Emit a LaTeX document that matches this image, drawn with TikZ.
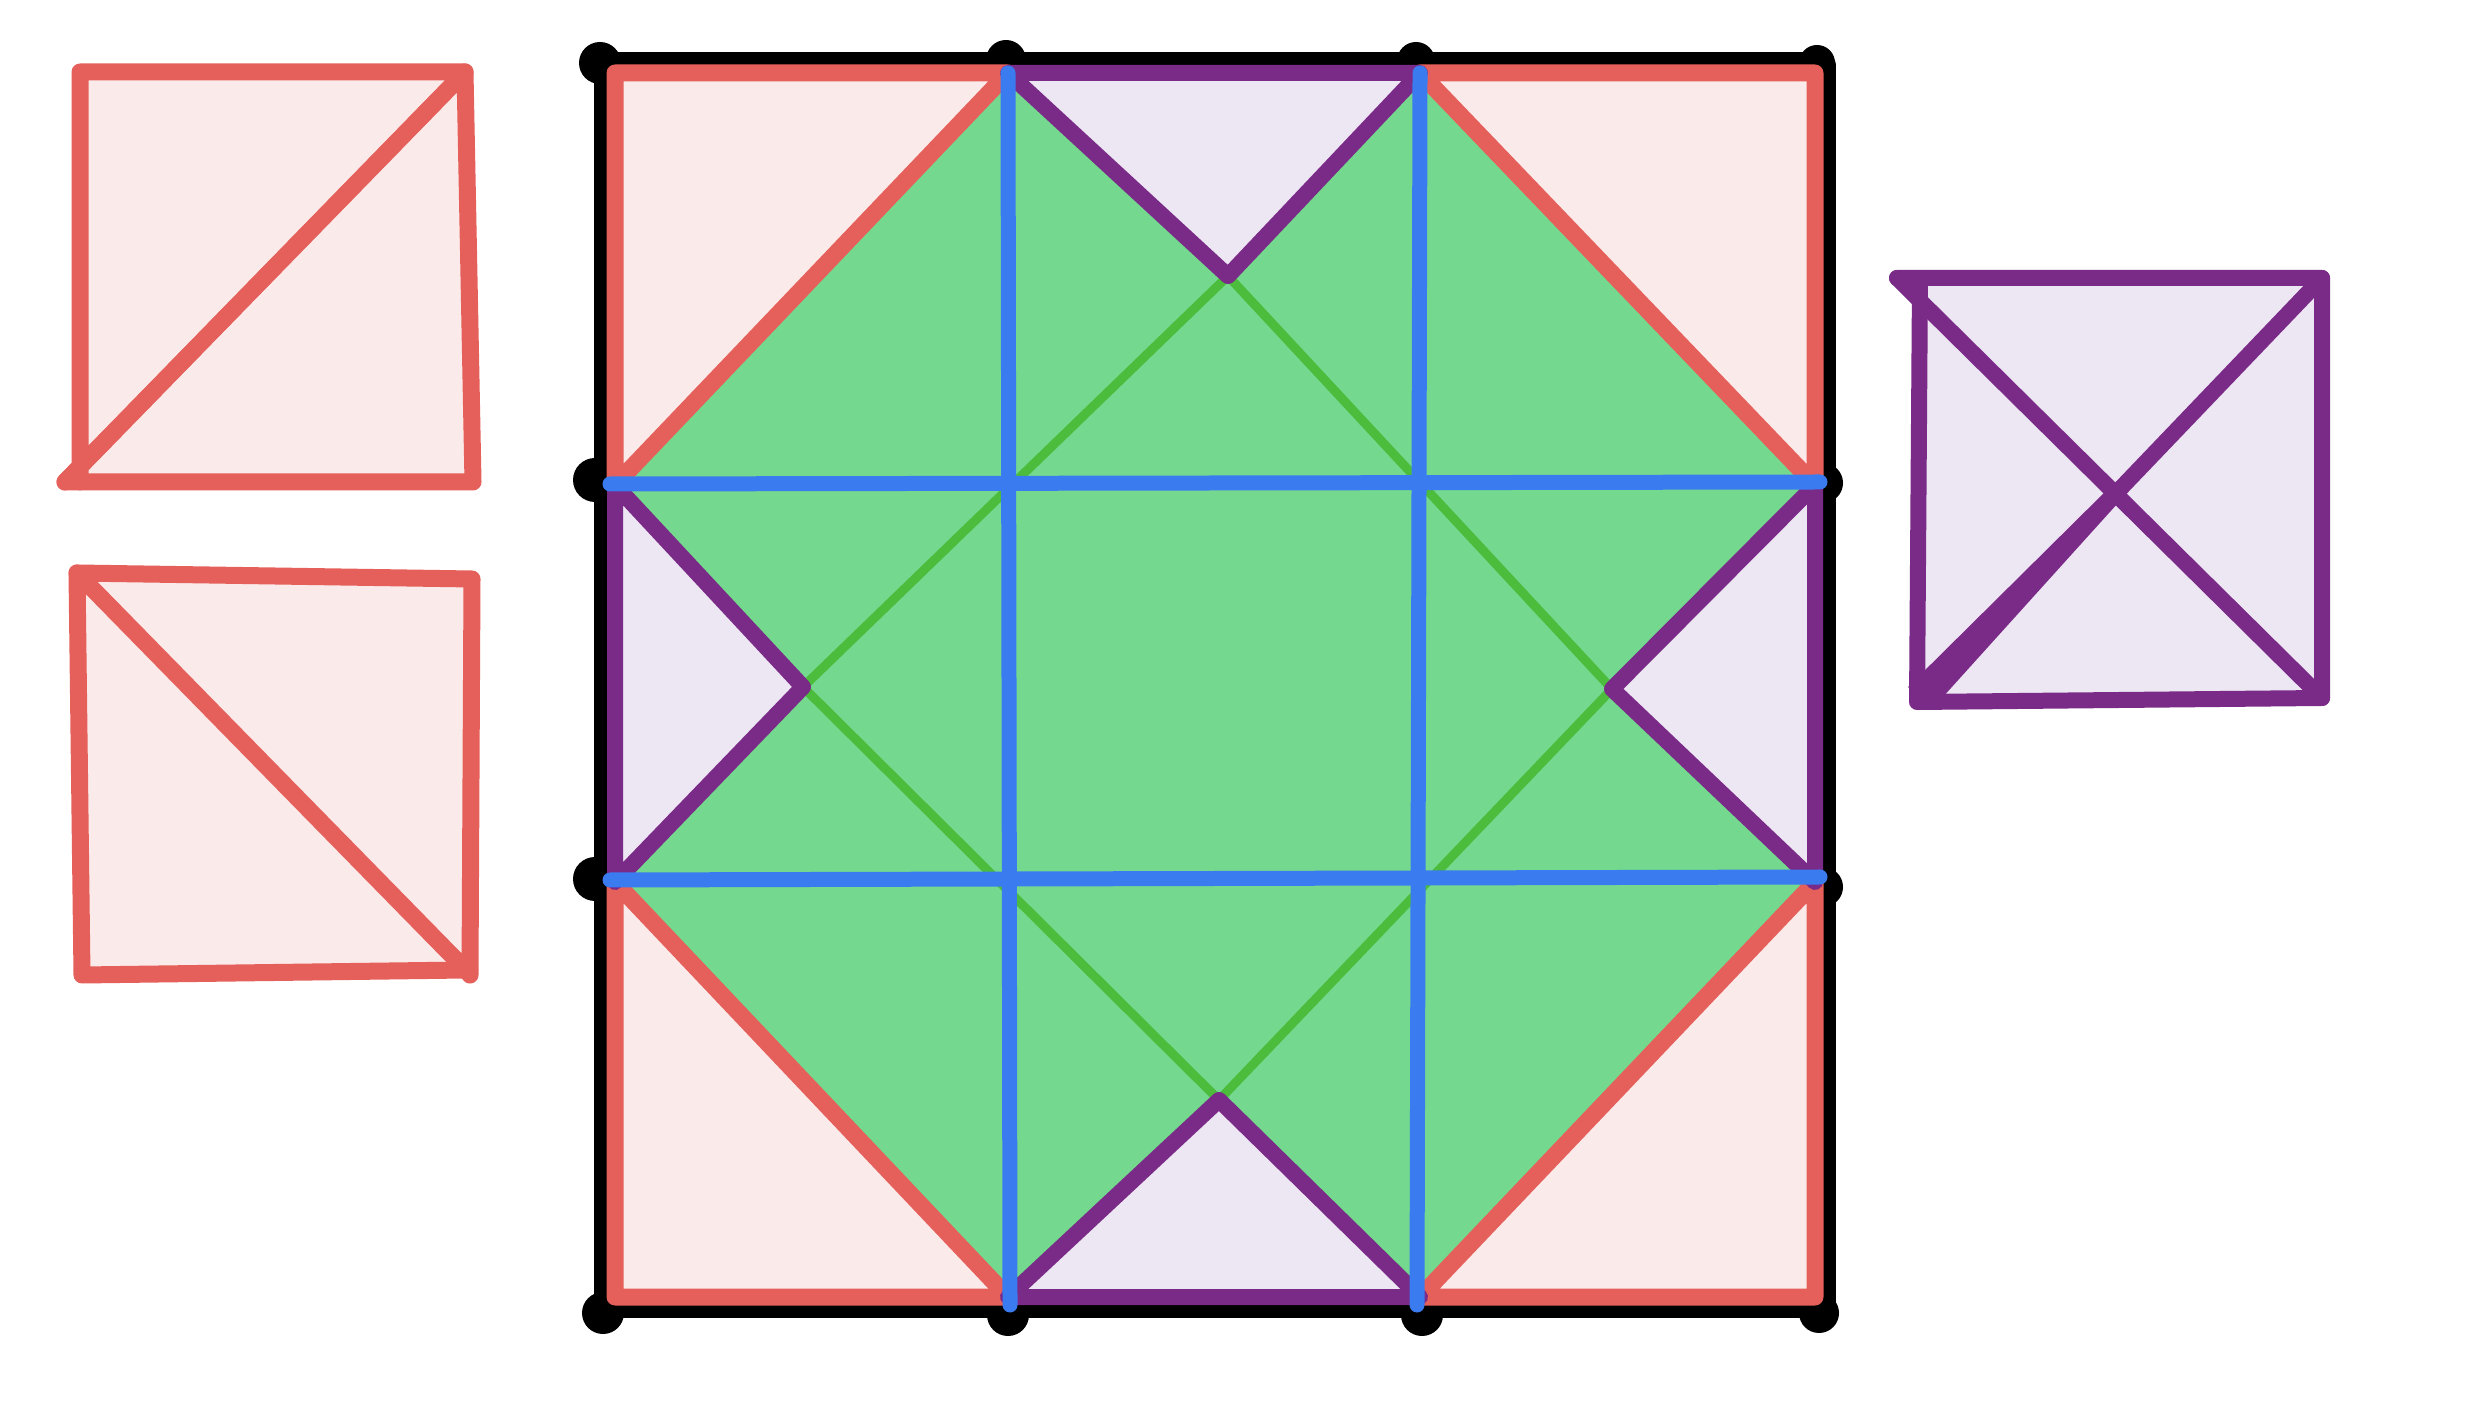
\documentclass[tikz,border=0pt]{standalone}
\usepackage{tikz}
\usetikzlibrary{calc}

\definecolor{quiltred}{RGB}{229,96,90}
\definecolor{quiltpink}{RGB}{251,234,234}
\definecolor{quiltpurple}{RGB}{122,42,135}
\definecolor{quiltlilac}{RGB}{237,230,243}
\definecolor{quiltgreen}{RGB}{116,216,142}
\definecolor{quiltdkgreen}{RGB}{76,188,60}
\definecolor{quiltblue}{RGB}{58,124,240}

\tikzset{
  redline/.style={draw=quiltred, line width=0.17cm, line join=round, line cap=round},
  purpleline/.style={draw=quiltpurple, line width=0.16cm, line join=round, line cap=round},
  blueline/.style={draw=quiltblue, line width=0.15cm, line cap=round},
  greenline/.style={draw=quiltdkgreen, line width=0.09cm, line cap=round},
  blackline/.style={draw=black, line width=0.28cm, line join=round},
  blackdot/.style={fill=black},
}

\begin{document}
\begin{tikzpicture}
\useasboundingbox[fill=white] (0,0) rectangle (24.92,14);

% left: the two half square pieces, each drawn as two triangles
\coordinate (aTL) at (0.80,13.28);
\coordinate (aTR) at (4.65,13.28);
\coordinate (aBR) at (4.73,9.18);
\coordinate (aBL) at (0.80,9.18);
\coordinate (aD) at (0.65,9.18);
\fill[quiltpink] (aTL) -- (aTR) -- (aBR) -- (aBL) -- cycle;
\draw[redline] (aBL) -- (aTL) -- (aTR) -- (aD);
\draw[redline] (aTR) -- (aBR) -- (aD) -- cycle;

\coordinate (bTL) at (0.77,8.27);
\coordinate (bTR) at (4.72,8.21);
\coordinate (bBR) at (4.70,4.25);
\coordinate (bBL) at (0.82,4.25);
\coordinate (bD) at (4.66,4.30);
\fill[quiltpink] (bTL) -- (bTR) -- (bBR) -- (bBL) -- cycle;
\draw[redline] (bTL) -- (bTR) -- (bBR) -- (bD) -- cycle;
\draw[redline] (bTL) -- (bBL) -- (bD);

% right: the quarter square piece
\coordinate (cTL) at (19.20,11.22);
\coordinate (cTR) at (23.22,11.22);
\coordinate (cBR) at (23.22,7.02);
\coordinate (cBL) at (19.20,7.02);
\coordinate (cT) at (18.97,11.22);
\coordinate (cB) at (19.17,6.98);
\fill[quiltlilac] (cTL) -- (cTR) -- (cBR) -- (cBL) -- cycle;
\draw[purpleline] (cT) -- (cTR) -- (cBR) -- (cB) -- (cTL);
\draw[purpleline] (cT) -- (cBR);
\draw[purpleline] (cBL) -- (cTR);
% the pen pressed harder near the lower corner
\fill[quiltpurple] (19.08,7.13) -- (21.15,9.18) -- (21.27,9.07) -- (19.32,6.91) -- cycle;

% the block: grid points on the border
\coordinate (g00) at (6.15,1.03);
\coordinate (g10) at (10.08,1.03);
\coordinate (g20) at (14.20,1.03);
\coordinate (g30) at (18.15,1.03);
\coordinate (g01) at (6.15,5.18);
\coordinate (g31) at (18.15,5.18);
\coordinate (g02) at (6.15,9.15);
\coordinate (g32) at (18.15,9.15);
\coordinate (g03) at (6.15,13.27);
\coordinate (g13) at (10.08,13.27);
\coordinate (g23) at (14.20,13.27);
\coordinate (g33) at (18.15,13.27);
% tips of the four lilac triangles
\coordinate (tipT) at (12.28,11.24);
\coordinate (tipR) at (16.12,7.11);
\coordinate (tipB) at (12.19,3.00);
\coordinate (tipL) at (8.03,7.13);

% black outline and dots
\draw[blackline] ($(g00)+(-0.07,-0.07)$) rectangle ($(g33)+(0.07,0.07)$);
\fill[blackdot] ($(g00)+(-0.12,-0.16)$) circle (0.21);
\fill[blackdot] ($(g10)+(0,-0.18)$) circle (0.21);
\fill[blackdot] ($(g20)+(0.02,-0.18)$) circle (0.21);
\fill[blackdot] ($(g30)+(0.04,-0.16)$) circle (0.2);
\fill[blackdot] ($(g01)+(-0.2,0.03)$) circle (0.22);
\fill[blackdot] ($(g02)+(-0.2,0.05)$) circle (0.22);
\fill[blackdot] ($(g31)+(0.08,-0.05)$) circle (0.2);
\fill[blackdot] ($(g32)+(0.08,0.02)$) circle (0.2);
\fill[blackdot] ($(g03)+(-0.15,0.1)$) circle (0.21);
\fill[blackdot] ($(g13)+(-0.02,0.13)$) circle (0.2);
\fill[blackdot] ($(g23)+(-0.04,0.12)$) circle (0.19);
\fill[blackdot] ($(g33)+(0.02,0.1)$) circle (0.18);

% fills
\fill[quiltgreen] (g02) -- (g13) -- (tipT) -- (g23) -- (g32) -- (tipR) -- (g31)
  -- (g20) -- (tipB) -- (g10) -- (g01) -- (tipL) -- cycle;
\fill[quiltpink] (g02) -- (g03) -- (g13) -- cycle;
\fill[quiltpink] (g23) -- (g33) -- (g32) -- cycle;
\fill[quiltpink] (g31) -- (g30) -- (g20) -- cycle;
\fill[quiltpink] (g10) -- (g00) -- (g01) -- cycle;
\fill[quiltlilac] (g13) -- (g23) -- (tipT) -- cycle;
\fill[quiltlilac] (g32) -- (g31) -- (tipR) -- cycle;
\fill[quiltlilac] (g20) -- (g10) -- (tipB) -- cycle;
\fill[quiltlilac] (g01) -- (g02) -- (tipL) -- cycle;

% green square on point
\draw[greenline] (tipT) -- (tipR) -- (tipB) -- (tipL) -- cycle;

% red corner triangles
\draw[redline] (g02) -- (g03) -- (g13) -- cycle;
\draw[redline] (g23) -- (g33) -- (g32) -- cycle;
\draw[redline] (g31) -- (g30) -- (g20) -- cycle;
\draw[redline] (g10) -- (g00) -- (g01) -- cycle;

% purple side triangles
\draw[purpleline] (g13) -- (g23) -- (tipT) -- cycle;
\draw[purpleline] (g32) -- (g31) -- (tipR) -- cycle;
\draw[purpleline] (g20) -- (g10) -- (tipB) -- cycle;
\draw[purpleline] (g01) -- (g02) -- (tipL) -- cycle;

% blue grid
\draw[blueline] (g13) -- ($(g10)+(0.02,-0.08)$);
\draw[blueline] (g23) -- ($(g20)+(-0.03,-0.08)$);
\draw[blueline] ($(g02)+(-0.05,0.01)$) -- ($(g32)+(0.05,0.03)$);
\draw[blueline] ($(g01)+(-0.05,0.02)$) -- ($(g31)+(0.05,0.05)$);
\end{tikzpicture}
\end{document}
